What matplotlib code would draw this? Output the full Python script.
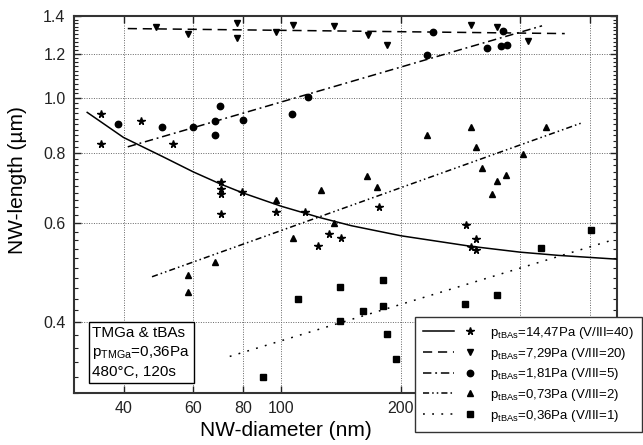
import matplotlib
matplotlib.use("Agg")
import matplotlib.pyplot as plt
from matplotlib.legend_handler import HandlerTuple
from matplotlib.ticker import FixedLocator, FixedFormatter, NullFormatter

plt.rcParams['font.family'] = ['Liberation Sans', 'DejaVu Sans']
plt.rcParams['mathtext.fontset'] = 'custom'
plt.rcParams['mathtext.rm'] = 'Liberation Sans'
plt.rcParams['mathtext.it'] = 'Liberation Sans:italic'

# V/III = 40 (stars)
d40 = [35.2, 35.2, 44.4, 53.2, 70.6, 70.6, 70.6, 70.6, 79.6, 96.8, 114.8,
       123.6, 132.2, 141.3, 176.5, 291.6, 309, 300, 309]
l40 = [0.937, 0.828, 0.911, 0.828, 0.709, 0.689, 0.675, 0.624, 0.682, 0.628, 0.627,
       0.546, 0.575, 0.565, 0.641, 0.596, 0.563, 0.544, 0.537]
fit40_d = [32.4, 40, 50, 60, 70, 80, 100, 125, 150, 200, 300, 400, 500, 700]
fit40_l = [0.944, 0.852, 0.789, 0.740, 0.705, 0.679, 0.643, 0.614, 0.594, 0.570,
           0.546, 0.533, 0.526, 0.518]

# V/III = 20 (down triangles)
d20 = [48.4, 58.1, 77.5, 77.5, 96.8, 106.7, 135.8, 164.9, 184.2, 300.3, 349.3, 417.3]
l20 = [1.339, 1.303, 1.363, 1.280, 1.312, 1.352, 1.342, 1.294, 1.241, 1.352, 1.339, 1.262]
fit20_d = [41, 518]
fit20_l = [1.33, 1.303]

# V/III = 5 (circles)
d5 = [38.7, 50.0, 60.0, 67.9, 69.9, 67.9, 80.1, 106.6, 116.4, 232.9, 240.7,
      330.1, 358.1, 371.5, 361.3]
l5 = [0.900, 0.888, 0.888, 0.912, 0.968, 0.860, 0.915, 0.937, 1.007, 1.195, 1.312,
      1.228, 1.238, 1.245, 1.316]
fit5_d = [41, 454]
fit5_l = [0.820, 1.345]

# V/III = 2 (up triangles)
d2 = [58.1, 58.1, 67.9, 106.7, 97.0, 126.1, 135.8, 164.7, 174.3, 232.6, 300.3,
      310.1, 320.1, 349.3, 339.2, 368.6, 407.6, 465.3]
l2 = [0.486, 0.453, 0.512, 0.565, 0.661, 0.687, 0.600, 0.727, 0.695, 0.861, 0.890,
      0.818, 0.751, 0.713, 0.677, 0.731, 0.796, 0.888]
fit2_d = [47.2, 576]
fit2_l = [0.482, 0.906]

# V/III = 1 (squares)
d1 = [89.9, 110.2, 140.4, 140.4, 160.2, 180.3, 180.3, 184.2, 194.0, 290.9, 349.3,
      451.2, 601.6]
l1 = [0.320, 0.441, 0.463, 0.402, 0.419, 0.476, 0.428, 0.382, 0.345, 0.432, 0.448,
      0.543, 0.583]
fit1_d = [74.1, 688]
fit1_l = [0.348, 0.561]

labels = [r'$\mathrm{p_{tBAs}}$=14,47Pa (V/III=40)',
          r'$\mathrm{p_{tBAs}}$=7,29Pa (V/III=20)',
          r'$\mathrm{p_{tBAs}}$=1,81Pa (V/III=5)',
          r'$\mathrm{p_{tBAs}}$=0,73Pa (V/III=2)',
          r'$\mathrm{p_{tBAs}}$=0,36Pa (V/III=1)']

xticks = [40, 60, 80, 100, 200, 400, 600]
# 400 and 600 sit behind the legend in the original
xticklabels = ['40', '60', '80', '100', '200', '', '']
yticks = [0.4, 0.6, 0.8, 1.0, 1.2, 1.4]
yminor = [round(0.30 + 0.02 * i, 2) for i in range(56)]

series = [
    (d40, l40, fit40_d, fit40_l, '*', 5.6, '-'),
    (d20, l20, fit20_d, fit20_l, 'v', 5.0, (0, (6, 3.8))),
    (d5, l5, fit5_d, fit5_l, 'o', 4.6, (0, (5.5, 2.5, 1.2, 2.5))),
    (d2, l2, fit2_d, fit2_l, '^', 5.0, (0, (4, 2, 1, 2, 1, 2))),
    (d1, l1, fit1_d, fit1_l, 's', 4.2, (0, (1.2, 4.8))),
]

fig = plt.figure(figsize=(6.43, 4.45), dpi=100)
ax = fig.add_axes([0.115, 0.1175, 0.844, 0.8465])
ax.set_xscale('log')
ax.set_yscale('log')

handles = []
for d, l, fd, fl, mk, ms, ls in series:
    ln, = ax.plot(fd, fl, color='black', lw=1.1, linestyle=ls, zorder=3)
    pt, = ax.plot(d, l, linestyle='none', marker=mk, ms=ms, color='black', zorder=4)
    handles.append((ln, pt))

ax.set_xlim(30, 700)
ax.set_ylim(0.3, 1.4)

ax.xaxis.set_major_locator(FixedLocator(xticks))
ax.xaxis.set_major_formatter(FixedFormatter(xticklabels))
ax.xaxis.set_minor_locator(FixedLocator([]))
ax.xaxis.set_minor_formatter(NullFormatter())
ax.yaxis.set_major_locator(FixedLocator(yticks))
ax.yaxis.set_major_formatter(FixedFormatter(['%.1f' % t for t in yticks]))
ax.yaxis.set_minor_locator(FixedLocator(yminor))
ax.yaxis.set_minor_formatter(NullFormatter())

ax.tick_params(which='both', direction='in', top=True, right=True,
               labelsize=11.5, colors='#222222')
ax.tick_params(which='major', length=5, width=1.0, pad=6)
ax.tick_params(which='minor', length=3, width=0.8)
ax.grid(True, which='major', linestyle=(0, (1, 1.5)), color='#666666', lw=0.7)
for sp in ax.spines.values():
    sp.set_linewidth(1.5)
    sp.set_color('#333333')

ax.set_xlabel('NW-diameter (nm)', fontsize=15)
ax.set_ylabel('NW-length (µm)', fontsize=15)
ax.xaxis.set_label_coords(0.39, -0.075)
ax.yaxis.set_label_coords(-0.087, 0.565)

ax.text(0.034, 0.178, 'TMGa & tBAs\n' + r'p$_{\mathrm{TMGa}}$=0,36Pa' + '\n480°C, 120s',
        transform=ax.transAxes, fontsize=11, va='top', ha='left', linespacing=1.35,
        bbox=dict(boxstyle='square,pad=0.25', fc='white', ec='black', lw=1.0), zorder=6)

leg = ax.legend(handles, labels, handler_map={tuple: HandlerTuple(ndivide=None, pad=0)},
                loc='upper left', bbox_to_anchor=(0.645, 0.288),
                bbox_transform=fig.transFigure, fontsize=9.5, handlelength=4.8,
                handletextpad=0.3, labelspacing=0.36, borderpad=0.6,
                borderaxespad=0, fancybox=False, framealpha=1, edgecolor='#333333')
leg.get_frame().set_linewidth(1.0)
leg.set_zorder(10)

fig.savefig('out.png', dpi=100)
